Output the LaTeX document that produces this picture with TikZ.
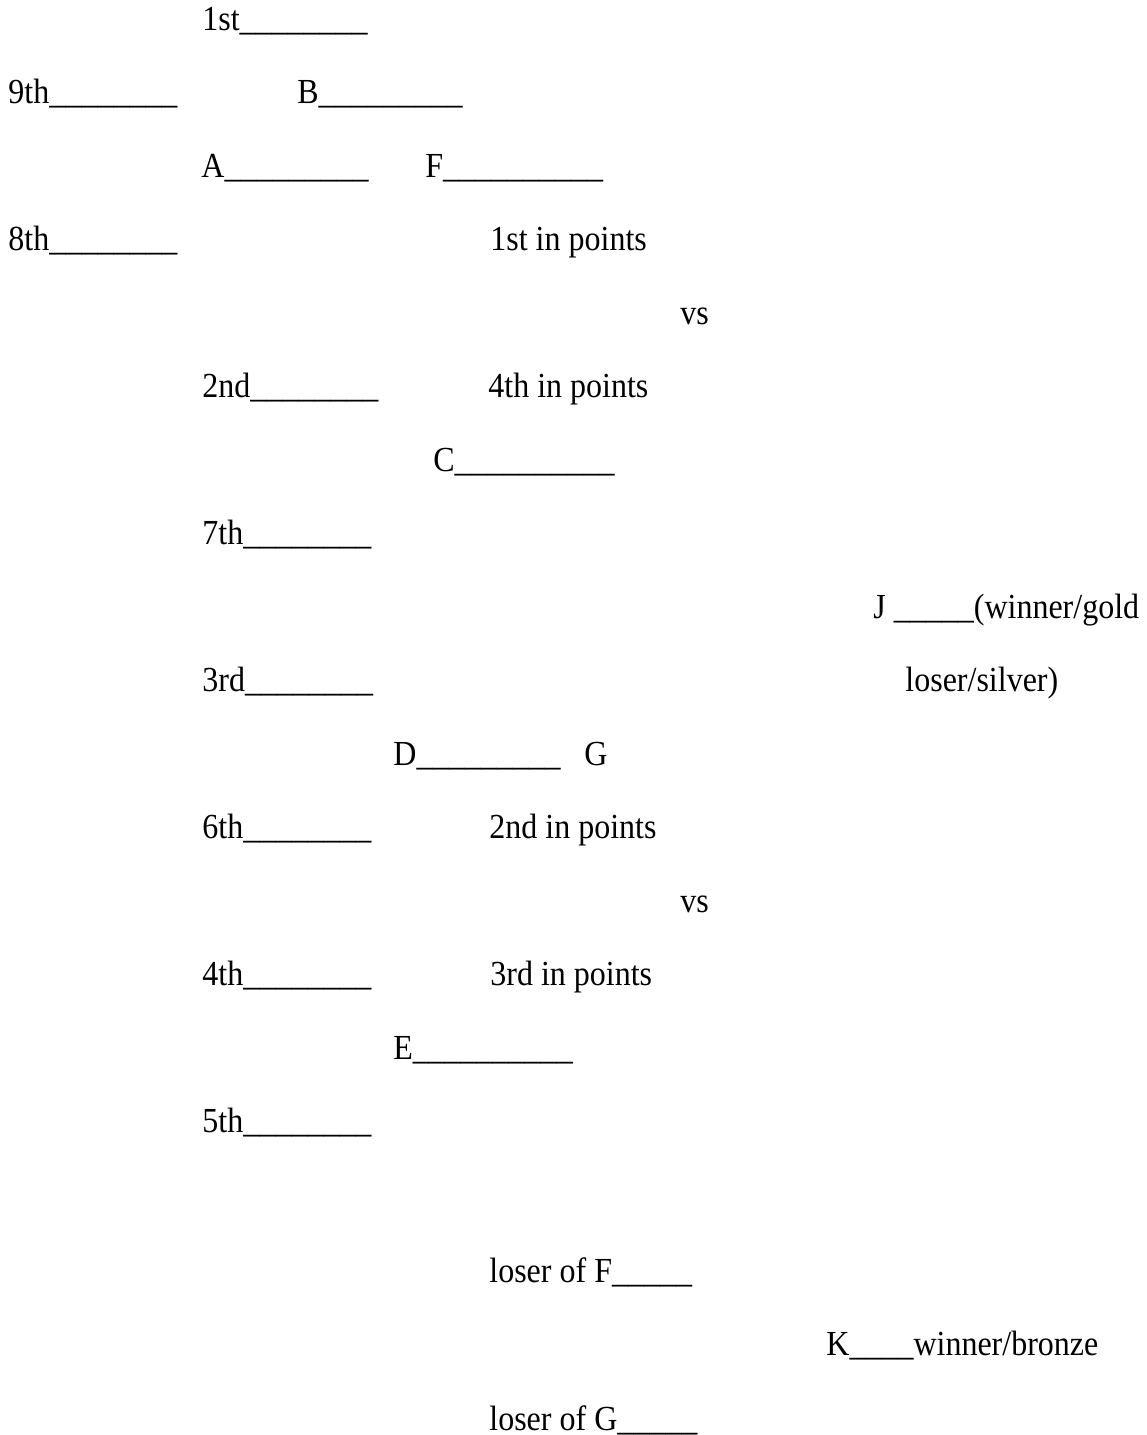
\documentclass[tikz,border=0pt]{standalone}
\usepackage{fontspec}
\setmainfont{Liberation Serif}
\newcommand\usc[1]{\foreach \k in {1,...,#1}{\makebox[8pt][l]{\_}}}
\newcommand\tx[1]{\scalebox{1}[1.1]{#1}}
\begin{document}
\begin{tikzpicture}[x=0.5pt,y=-0.5pt,
  lbl/.style={anchor=base west,inner sep=0pt,font=\fontsize{16pt}{19pt}\selectfont}]
\useasboundingbox (0,0) rectangle (1146,1435);
\node[lbl] (r1) at (202,30) {\tx{1st\usc{8}}};
\node[lbl] (n9) at (8,103.5) {\tx{9th\usc{8}}};
\node[lbl] (b) at (297,103.5) {\tx{B\usc{9}}};
\node[lbl] (a) at (201,177) {\tx{A\usc{9}}};
\node[lbl] (f) at (425,177) {\tx{F\usc{10}}};
\node[lbl] (n8) at (8,250.5) {\tx{8th\usc{8}}};
\node[lbl] (p1) at (490,250.5) {\tx{1st in points}};
\node[lbl] (vs1) at (680,324) {\tx{vs}};
\node[lbl] (r2) at (202,397.5) {\tx{2nd\usc{8}}};
\node[lbl] (p4) at (488,397.5) {\tx{4th in points}};
\node[lbl] (c) at (433,471) {\tx{C\usc{10}}};
\node[lbl] (r7) at (202,544.5) {\tx{7th\usc{8}}};
\node[lbl] (j) at (873,618) {\tx{J \usc{5}(winner/gold}};
\node[lbl] (r3) at (202,691.5) {\tx{3rd\usc{8}}};
\node[lbl] (ls) at (905,691.5) {\tx{loser/silver)}};
\node[lbl] (d) at (393,765) {\tx{D\usc{9}}};
\node[lbl] (g) at (584,765) {\tx{G}};
\node[lbl] (r6) at (202,838.5) {\tx{6th\usc{8}}};
\node[lbl] (p2) at (489,838.5) {\tx{2nd in points}};
\node[lbl] (vs2) at (680,912) {\tx{vs}};
\node[lbl] (r4) at (202,985.5) {\tx{4th\usc{8}}};
\node[lbl] (p3) at (490,985.5) {\tx{3rd in points}};
\node[lbl] (e) at (393,1059) {\tx{E\usc{10}}};
\node[lbl] (r5) at (202,1132.5) {\tx{5th\usc{8}}};
\node[lbl] (lf) at (489,1282) {\tx{loser of F\usc{5}}};
\node[lbl] (k) at (826,1355) {\tx{K\usc{4}winner/bronze}};
\node[lbl] (lg) at (489,1430) {\tx{loser of G\usc{5}}};
\end{tikzpicture}
\end{document}
